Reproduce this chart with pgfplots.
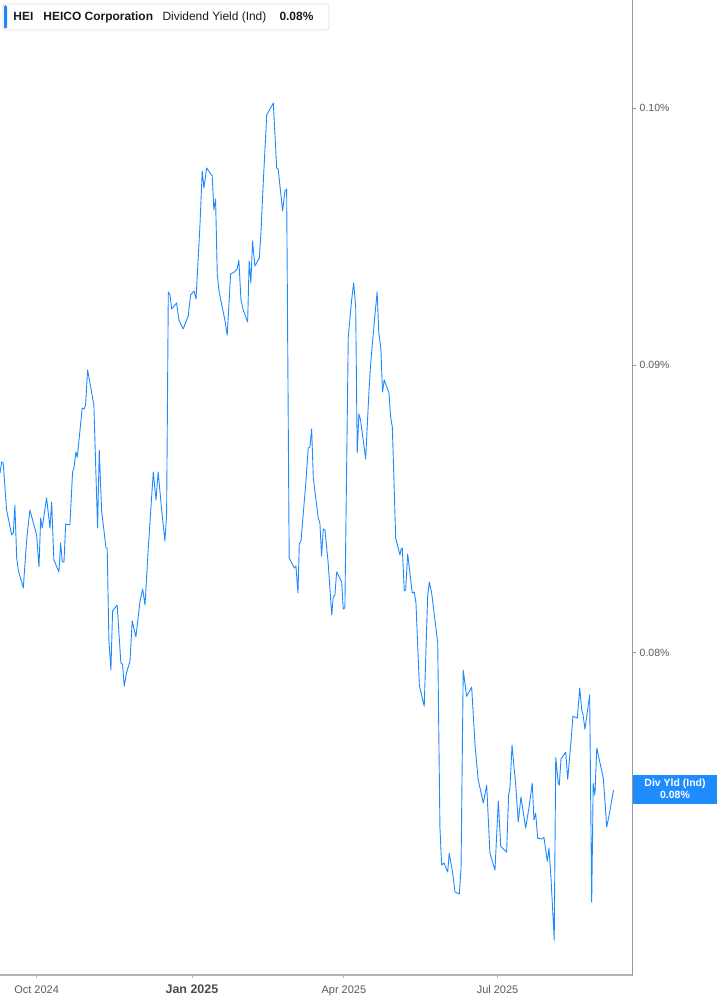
\documentclass[border=0pt]{standalone}
\usepackage{fontspec}
\setmainfont{Liberation Sans}
\usepackage{pgfplots}
\pgfplotsset{compat=1.18}
\definecolor{lineblue}{RGB}{30,136,255}
\definecolor{boxblue}{RGB}{30,140,255}
\definecolor{axgray}{RGB}{178,178,178}
\definecolor{raxgray}{RGB}{150,150,150}
\definecolor{labgray}{RGB}{90,90,90}
\definecolor{hdrtext}{RGB}{25,25,35}
\definecolor{hdrborder}{RGB}{225,225,228}

\begin{document}
\begin{tikzpicture}[x=1bp,y=1bp]
\useasboundingbox (0,0) rectangle (717,1005);
\begin{axis}[
  at={(0bp,30bp)}, anchor=south west,
  width=632.7bp, height=975bp, scale only axis,
  xmin=-21.7, xmax=353.1,
  ymode=log, ymin=0.070093, ymax=0.104539,
  axis x line*=bottom, axis y line*=right,
  x axis line style={axgray, line width=1.3bp, -},
  y axis line style={raxgray, line width=0.9bp, -},
  xtick={0,92,182,273},
  xticklabels={Oct 2024, {\fontsize{12.5}{14}\selectfont\bfseries\color{black!70}Jan 2025}, Apr 2025, Jul 2025},
  xticklabel style={font=\fontsize{11}{12}\selectfont, text=labgray, anchor=base, yshift=-15bp},
  ytick={0.08,0.09,0.10},
  yticklabels={0.08\%,0.09\%,0.10\%},
  yticklabel style={font=\fontsize{10.5}{12}\selectfont, text=labgray, anchor=west},
  minor ytick={}, minor xtick={},
  tick align=outside,
  xtick style={axgray, line width=0.8bp},
  ytick style={raxgray, line width=0.8bp},
  major tick length=3.5bp,
  clip=false,
]
\addplot[lineblue, line width=0.9bp, line join=round] table[row sep=\\] {
x y\\
-21.7 0.086115\\
-20.7 0.086504\\
-19.8 0.086469\\
-17.8 0.084819\\
-14.8 0.083954\\
-13.8 0.084023\\
-12.9 0.084993\\
-11.8 0.083166\\
-10.9 0.082758\\
-7.9 0.082150\\
-5.9 0.083782\\
-4.0 0.084819\\
0.0 0.083954\\
1.4 0.082860\\
2.4 0.084541\\
3.3 0.084195\\
5.9 0.085237\\
7.9 0.084195\\
8.9 0.085097\\
10.2 0.083098\\
13.2 0.082690\\
14.2 0.083679\\
15.2 0.083030\\
16.2 0.083030\\
17.2 0.084333\\
19.7 0.084299\\
21.3 0.086150\\
22.1 0.086292\\
23.3 0.086860\\
24.1 0.086682\\
25.1 0.087288\\
27.0 0.088440\\
28.2 0.088404\\
29.0 0.088549\\
30.2 0.089828\\
33.9 0.088549\\
36.1 0.084195\\
37.1 0.086931\\
38.5 0.084784\\
41.1 0.083508\\
41.8 0.083508\\
42.8 0.080417\\
44.0 0.079434\\
45.0 0.081379\\
47.7 0.081579\\
49.9 0.079663\\
50.9 0.079630\\
51.9 0.078916\\
53.3 0.079369\\
55.3 0.079728\\
56.6 0.081046\\
58.8 0.080516\\
61.2 0.081680\\
62.8 0.082116\\
64.2 0.081579\\
66.1 0.083473\\
69.1 0.086150\\
70.7 0.085167\\
72.0 0.086150\\
74.1 0.084784\\
76.0 0.083748\\
77.0 0.084680\\
78.0 0.092747\\
79.0 0.092633\\
80.0 0.092103\\
82.9 0.092329\\
84.3 0.091688\\
86.8 0.091350\\
89.8 0.091839\\
91.2 0.092633\\
93.3 0.092785\\
94.4 0.092481\\
96.7 0.095251\\
98.1 0.097463\\
99.1 0.096786\\
100.7 0.097583\\
104.0 0.097263\\
105.0 0.095917\\
106.0 0.096350\\
107.0 0.093434\\
108.0 0.092785\\
111.5 0.091688\\
112.9 0.091126\\
114.9 0.093434\\
117.1 0.093510\\
118.8 0.093625\\
119.8 0.093971\\
121.0 0.092481\\
122.4 0.092065\\
125.0 0.091613\\
125.9 0.093932\\
126.9 0.093090\\
127.9 0.094706\\
129.3 0.093741\\
131.9 0.094048\\
132.9 0.095056\\
134.3 0.097064\\
136.3 0.099731\\
140.2 0.100217\\
142.2 0.097583\\
143.1 0.097543\\
145.7 0.095878\\
147.1 0.096667\\
148.1 0.096746\\
149.6 0.083166\\
152.6 0.082826\\
153.6 0.082894\\
154.8 0.081981\\
155.6 0.083645\\
156.6 0.083748\\
159.5 0.085798\\
160.9 0.087002\\
161.9 0.087038\\
162.9 0.087682\\
163.9 0.085939\\
166.8 0.084541\\
167.8 0.084368\\
168.8 0.083234\\
169.8 0.084161\\
170.8 0.084126\\
172.7 0.082996\\
174.8 0.081246\\
175.7 0.081847\\
176.7 0.081914\\
177.7 0.082690\\
180.7 0.082352\\
181.6 0.081446\\
182.6 0.081479\\
184.6 0.091051\\
186.6 0.092443\\
187.8 0.093090\\
189.0 0.092178\\
189.9 0.086824\\
190.9 0.088223\\
191.9 0.088006\\
194.9 0.086611\\
196.8 0.088985\\
197.8 0.090012\\
200.4 0.091876\\
201.7 0.092747\\
202.7 0.091201\\
203.9 0.090642\\
204.9 0.089022\\
205.9 0.089461\\
208.7 0.088985\\
209.7 0.088114\\
210.7 0.087754\\
212.7 0.083851\\
215.2 0.083268\\
215.8 0.083439\\
216.6 0.083508\\
217.8 0.082048\\
218.6 0.082082\\
219.8 0.083302\\
222.5 0.081981\\
223.7 0.082015\\
224.7 0.081646\\
226.7 0.078948\\
229.6 0.078271\\
231.6 0.081847\\
232.6 0.082352\\
234.0 0.081981\\
237.6 0.080318\\
238.9 0.074484\\
239.9 0.073333\\
241.3 0.073393\\
243.5 0.073122\\
244.4 0.073694\\
245.3 0.073423\\
246.4 0.073122\\
247.8 0.072526\\
250.4 0.072467\\
251.4 0.073242\\
252.7 0.079434\\
254.7 0.078593\\
257.7 0.078883\\
259.7 0.077030\\
261.6 0.075932\\
264.6 0.075220\\
266.6 0.075777\\
268.5 0.073694\\
271.5 0.073182\\
273.5 0.075281\\
274.9 0.073906\\
278.4 0.073724\\
279.6 0.075467\\
280.4 0.075715\\
281.6 0.077030\\
283.9 0.075715\\
285.3 0.074637\\
286.9 0.075405\\
289.7 0.074453\\
291.6 0.075066\\
293.6 0.075839\\
294.6 0.074698\\
295.6 0.074912\\
296.8 0.074149\\
299.2 0.074118\\
300.5 0.074179\\
302.5 0.073453\\
303.5 0.073845\\
304.7 0.072942\\
306.6 0.071112\\
307.5 0.076650\\
309.0 0.075839\\
309.6 0.075777\\
310.6 0.076588\\
313.4 0.076809\\
314.6 0.075963\\
316.5 0.077125\\
317.7 0.077951\\
320.3 0.077887\\
321.7 0.078851\\
322.9 0.078143\\
323.6 0.078015\\
324.8 0.077537\\
327.6 0.078625\\
328.8 0.072229\\
329.7 0.075839\\
330.7 0.075467\\
331.8 0.076935\\
335.7 0.075995\\
337.7 0.074484\\
339.7 0.075004\\
341.7 0.075622\\
};
\end{axis}
% header legend box
\draw[hdrborder, fill=white, rounded corners=3bp, line width=0.8bp] (3,975) rectangle (329,1001);
\fill[lineblue, rounded corners=1.2bp] (4,976.5) rectangle (7,999.5);
\begin{scope}[every node/.style={anchor=base west, inner sep=0pt, text=hdrtext, font=\fontsize{12}{14}\selectfont}]
\node at (13.3,984.3) {\bfseries HEI};
\node at (43.3,984.3) {\bfseries HEICO Corporation};
\node at (162.3,984.3) {Dividend Yield (Ind)};
\node at (279.3,984.3) {\bfseries 0.08\%};
\end{scope}
% last value tag
\fill[boxblue] (632.7,201) rectangle (717,230);
\node[text=white, font=\fontsize{10.5}{12}\selectfont\bfseries, inner sep=0pt] at (675,221) {Div Yld (Ind)};
\node[text=white, font=\fontsize{10.5}{12}\selectfont\bfseries, inner sep=0pt] at (675,210) {0.08\%};
\end{tikzpicture}
\end{document}
